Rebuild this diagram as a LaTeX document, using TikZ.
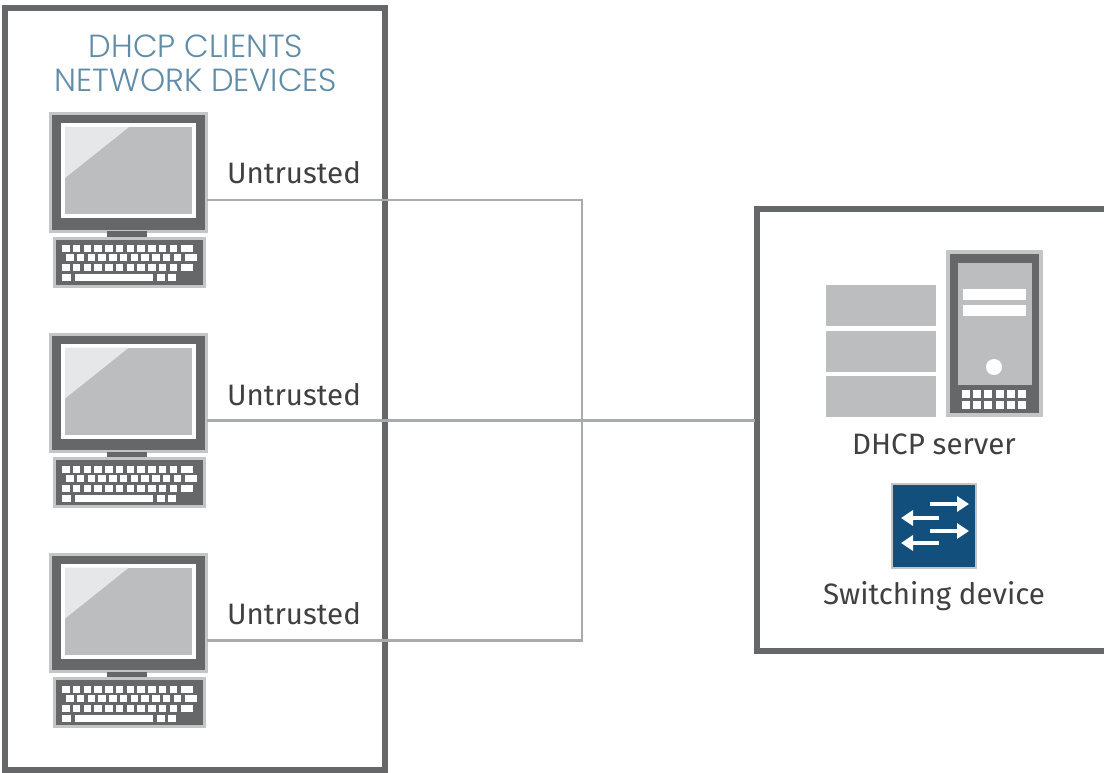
\documentclass[tikz,border=0pt]{standalone}
\usepackage{fontspec}
\setmainfont{Fira Sans}
\newfontfamily\titlefont{Poppins Light}
\usetikzlibrary{arrows.meta}
\definecolor{framegray}{HTML}{666769}
\definecolor{wiregray}{HTML}{A9AAAC}
\definecolor{panelgray}{HTML}{BCBDBF}
\definecolor{edgegray}{HTML}{C4C5C7}
\definecolor{shinegray}{HTML}{E6E7E8}
\definecolor{titleblue}{HTML}{5F8CA8}
\definecolor{switchblue}{HTML}{134F7C}
\tikzset{
  frame/.style={draw=framegray,line width=5.5pt},
  wire/.style={draw=wiregray,line width=2.5pt},
  label/.style={inner sep=0pt,font=\fontsize{29.5}{30}\selectfont,text=black!75},
  title/.style={inner sep=0pt,align=center,font=\titlefont\fontsize{32}{34}\selectfont,text=titleblue},
  pc/.pic={
    \coordinate (-port) at (207,200);
    \draw[draw=edgegray,fill=framegray,line width=3pt] (50,114) rectangle (206,231);
    \fill[framegray] (107,231) rectangle (147,237);
    \fill[white] (61,123) rectangle (196,218);
    \fill[panelgray] (65,127) rectangle (192,214);
    \fill[shinegray] (65,127) -- (129,127) -- (65,178) -- cycle;
    \draw[draw=edgegray,fill=framegray,line width=3pt] (54,238) rectangle (204,286);
    % keys
    \foreach \k in {0,...,10} {
      \fill[white] (62+10.75*\k,245) rectangle +(7.5,7);
      \fill[white] (66+10.75*\k,254) rectangle +(7.5,7);
      \fill[white] (62+10.75*\k,264) rectangle +(7.5,7);
    }
    \fill[white] (181,245) rectangle (193,252);
    \fill[white] (185,254) rectangle (197,261);
    \fill[white] (181,264) rectangle (193,271);
    \fill[white] (62,274) rectangle (71,281);
    \fill[white] (75,274) rectangle (153,281);
    \fill[white] (157,274) rectangle (165,281);
    \fill[white] (168,274) rectangle (176,281);
  },
  tower/.pic={
    \draw[draw=edgegray,fill=framegray,line width=4pt] (948,252) rectangle (1041,415);
    \fill[panelgray] (958,263) rectangle (1032,385);
    \fill[white] (963,289) rectangle (1026,300);
    \fill[white] (963,305) rectangle (1026,316);
    \fill[white] (994,367) circle (8);
    \foreach \k in {0,...,5} {
      \fill[white] (962+11.2*\k,390) rectangle +(8,8);
      \fill[white] (962+11.2*\k,401) rectangle +(8,8);
    }
  },
  shelves/.pic={
    \fill[panelgray] (826,285) rectangle (936,326);
    \fill[panelgray] (826,331) rectangle (936,372);
    \fill[panelgray] (826,376) rectangle (936,417);
  },
  flow/.style={draw=white,line width=4pt,-{Triangle[length=12pt,width=15pt]}}
}
\begin{document}
\begin{tikzpicture}[x=1pt,y=-1pt]
\useasboundingbox (0,0) rectangle (1104,773);
\draw[frame] (5,8) rectangle (385,770);
\draw[frame] (1104,209) -- (757,209) -- (757,651) -- (1104,651);
\coordinate (serverport) at (755,420.5);
\node[title] (clients) at (196,63) {DHCP CLIENTS\\NETWORK DEVICES};
\pic (pca) at (0,0) {pc};
\pic (pcb) at (0,220.5) {pc};
\pic (pcc) at (0,440.5) {pc};
\node[label] (ua) at (294,173) {Untrusted};
\node[label] (ub) at (294,395) {Untrusted};
\node[label] (uc) at (294,614) {Untrusted};
\coordinate (bend) at (582,200);
\draw[wire] (pca-port) -- (bend) |- (pcc-port);
\draw[wire] (pcb-port) -- (serverport);
\pic (rack) at (0,0) {shelves};
\pic (box) at (0,0) {tower};
\node[label] (server) at (934,444) {DHCP server};
\node[draw=edgegray,fill=switchblue,line width=1.5pt,minimum width=84pt,minimum height=84pt,inner sep=0pt] (switch) at (934,526) {};
\draw[flow] (930,504) -- (969,504);
\draw[flow] (939,518) -- (901,518);
\draw[flow] (930,531) -- (969,531);
\draw[flow] (939,543) -- (901,543);
\node[label] (device) at (934,596) {Switching device};
\end{tikzpicture}
\end{document}
